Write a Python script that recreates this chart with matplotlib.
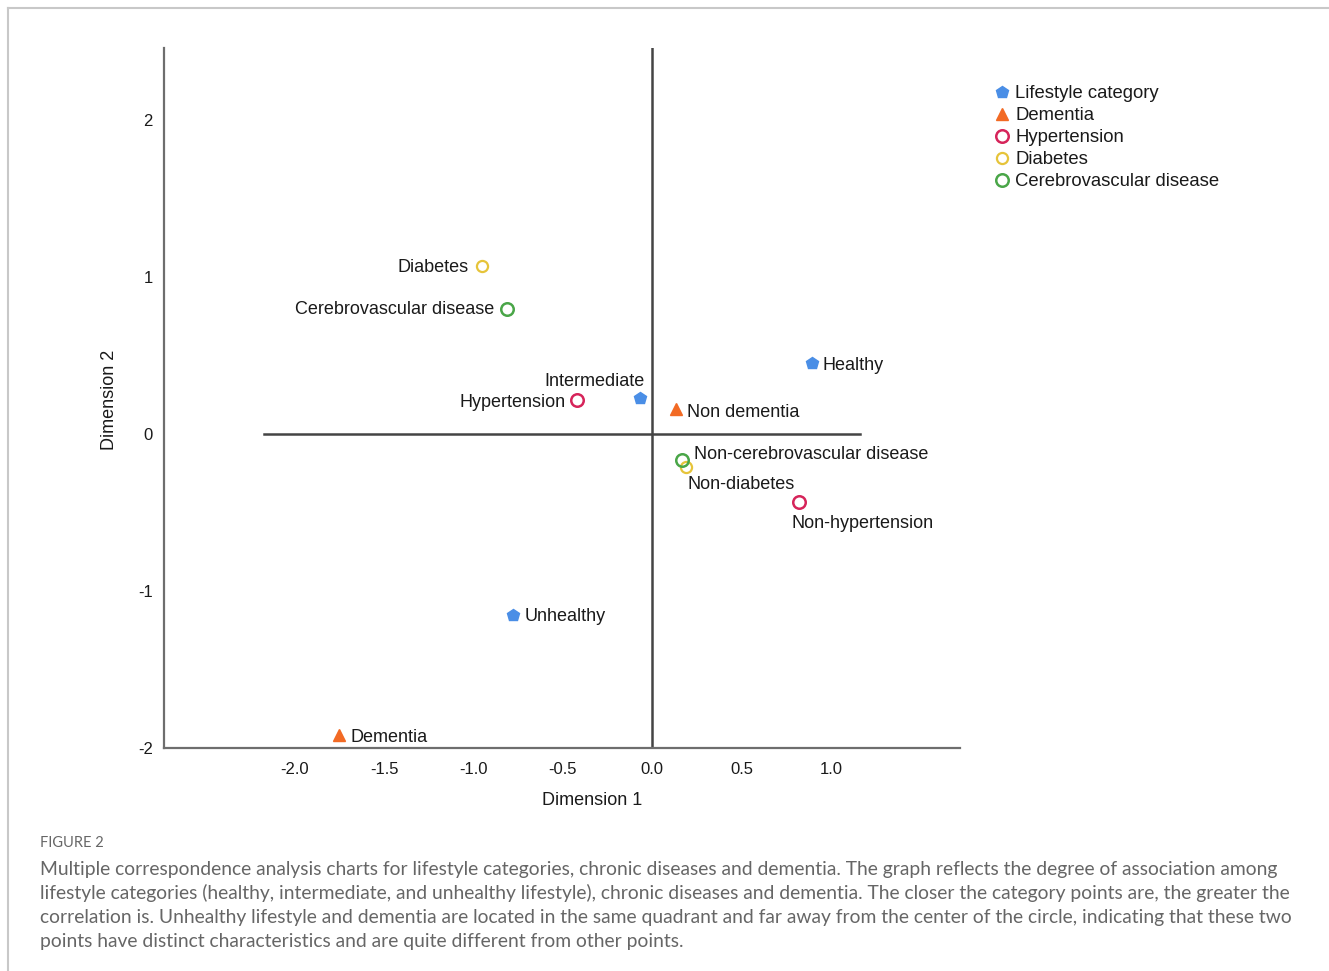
import matplotlib
matplotlib.use("Agg")
import matplotlib.pyplot as plt
from matplotlib.lines import Line2D

SANS = ['Liberation Sans', 'DejaVu Sans']
CAP = ['Lato', 'DejaVu Sans']

# ---- data ----
lifestyle_labels = ["Healthy", "Intermediate", "Unhealthy"]
lifestyle_x = [0.89, -0.067, -0.78]
lifestyle_y = [0.45, 0.23, -1.15]

dementia_labels = ["Non dementia", "Dementia"]
dementia_x = [0.134, -1.75]
dementia_y = [0.16, -1.92]

hyper_labels = ["Hypertension", "Non-hypertension"]
hyper_x = [-0.42, 0.82]
hyper_y = [0.22, -0.43]

diab_labels = ["Diabetes", "Non-diabetes"]
diab_x = [-0.955, 0.19]
diab_y = [1.07, -0.21]

cere_labels = ["Cerebrovascular disease", "Non-cerebrovascular disease"]
cere_x = [-0.81, 0.168]
cere_y = [0.80, -0.166]

x_ticks = [-2.0, -1.5, -1.0, -0.5, 0.0, 0.5, 1.0]
y_ticks = [-2, -1, 0, 1, 2]
legend_labels = ["Lifestyle category", "Dementia", "Hypertension", "Diabetes", "Cerebrovascular disease"]

caption_title = "FIGURE 2"
caption_lines = [
    "Multiple correspondence analysis charts for lifestyle categories, chronic diseases and dementia. The graph reflects the degree of association among",
    "lifestyle categories (healthy, intermediate, and unhealthy lifestyle), chronic diseases and dementia. The closer the category points are, the greater the",
    "correlation is. Unhealthy lifestyle and dementia are located in the same quadrant and far away from the center of the circle, indicating that these two",
    "points have distinct characteristics and are quite different from other points.",
]

# ---- styles ----
C_BLUE = "#4a8ee6"
C_ORANGE = "#f26a24"
C_RED = "#d6245a"
C_GOLD = "#e6c43a"
C_GREEN = "#4aa648"
TXT = "#1a1a1a"

W, H = 1329, 971
fig = plt.figure(figsize=(W / 100, H / 100), dpi=100)

# frame lines (top and left)
fig.add_artist(Line2D([8 / W, 1.0], [1 - 8 / H, 1 - 8 / H], color="#c8c8c8", lw=1.5))
fig.add_artist(Line2D([8 / W, 8 / W], [1 - 8 / H, 0.0], color="#c8c8c8", lw=1.5))

ax = fig.add_axes([164 / W, 1 - 748 / H, (960 - 164) / W, (748 - 48) / H])
ax.set_xlim(-2.73, 1.72)
ax.set_ylim(-2.0, 2.46)
for s in ["top", "right"]:
    ax.spines[s].set_visible(False)
for s in ["left", "bottom"]:
    ax.spines[s].set_color("#6e6e6e")
    ax.spines[s].set_linewidth(1.6)

ax.axvline(0, color="#444444", lw=1.8, zorder=1)
ax.plot([-2.17, 1.16], [0, 0], color="#444444", lw=1.8, zorder=1)

ax.set_xticks(x_ticks)
ax.set_xticklabels([f"{v:.1f}" for v in x_ticks], fontfamily=SANS, fontsize=12, color=TXT)
ax.set_yticks(y_ticks)
ax.set_yticklabels([str(v) for v in y_ticks], fontfamily=SANS, fontsize=12, color=TXT)
ax.tick_params(axis="y", length=0, pad=8)
ax.tick_params(axis="x", length=0, pad=10)
ax.set_xlabel("Dimension 1", fontfamily=SANS, fontsize=13, color=TXT)
ax.set_ylabel("Dimension 2", fontfamily=SANS, fontsize=13, color=TXT)
ax.xaxis.set_label_coords(0.538, -0.0625)
ax.yaxis.set_label_coords(-0.058, 0.497)

ms = 9
ax.plot(lifestyle_x, lifestyle_y, ls="none", marker="p", ms=ms, color=C_BLUE, mec=C_BLUE, zorder=3)
ax.plot(dementia_x, dementia_y, ls="none", marker="^", ms=ms - 1, color=C_ORANGE, mec=C_ORANGE, zorder=3)
ax.plot(hyper_x, hyper_y, ls="none", marker="o", ms=ms, mfc="none", mec=C_RED, mew=1.8, zorder=3)
ax.plot(diab_x, diab_y, ls="none", marker="o", ms=ms - 1, mfc="none", mec=C_GOLD, mew=1.6, zorder=3)
ax.plot(cere_x, cere_y, ls="none", marker="o", ms=ms, mfc="none", mec=C_GREEN, mew=1.8, zorder=3)

# label offsets in pixels (dx, dy, ha)
offsets = {
    "Healthy": (11, -2, "left"),
    "Intermediate": (4, 17, "right"),
    "Unhealthy": (12, -2, "left"),
    "Non dementia": (11, -4, "left"),
    "Dementia": (11, -2, "left"),
    "Hypertension": (-12, -3, "right"),
    "Non-hypertension": (-8, -22, "left"),
    "Diabetes": (-13, -1, "right"),
    "Non-diabetes": (1, -17, "left"),
    "Cerebrovascular disease": (-13, -1, "right"),
    "Non-cerebrovascular disease": (12, 6, "left"),
}
for labs, xs, ys in [(lifestyle_labels, lifestyle_x, lifestyle_y),
                     (dementia_labels, dementia_x, dementia_y),
                     (hyper_labels, hyper_x, hyper_y),
                     (diab_labels, diab_x, diab_y),
                     (cere_labels, cere_x, cere_y)]:
    for lab, x, y in zip(labs, xs, ys):
        dx, dy, ha = offsets[lab]
        ax.annotate(lab, (x, y), xytext=(dx, dy), textcoords="offset pixels",
                    ha=ha, va="center", fontsize=13, family=SANS, color=TXT, zorder=4)

handles = [
    Line2D([], [], ls="none", marker="p", ms=ms, color=C_BLUE),
    Line2D([], [], ls="none", marker="^", ms=ms - 1, color=C_ORANGE),
    Line2D([], [], ls="none", marker="o", ms=ms, mfc="none", mec=C_RED, mew=1.8),
    Line2D([], [], ls="none", marker="o", ms=ms - 1, mfc="none", mec=C_GOLD, mew=1.6),
    Line2D([], [], ls="none", marker="o", ms=ms, mfc="none", mec=C_GREEN, mew=1.8),
]
fig.legend(handles, legend_labels, loc="upper left", bbox_to_anchor=(996 / W, 1 - 85 / H),
           frameon=False, prop={"family": SANS, "size": 13.3},
           handlelength=0.6, handletextpad=0.45, labelspacing=0.275, borderpad=0, borderaxespad=0,
           labelcolor=TXT)

fig.text(40 / W, 1 - 843 / H, caption_title, family=CAP, fontsize=10.5, color="#666666", va="center")
for i, line in enumerate(caption_lines):
    fig.text(40 / W, 1 - (869 + 24 * i) / H, line, family=CAP, fontsize=13.9, color="#666666", va="center")

fig.savefig("out.png", dpi=100)
